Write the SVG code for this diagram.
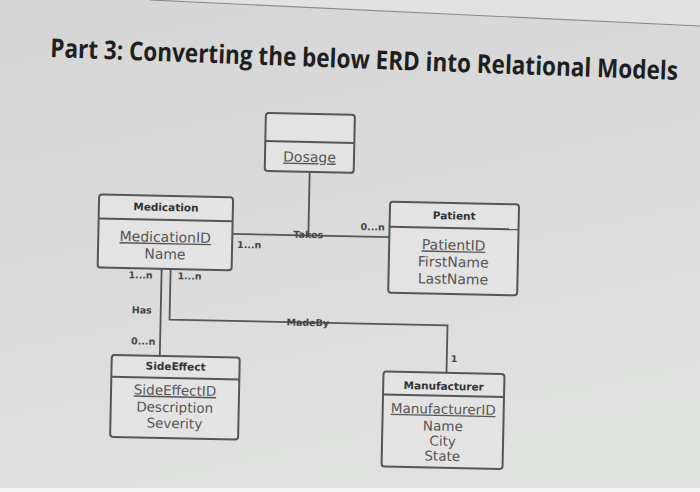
<svg xmlns="http://www.w3.org/2000/svg" width="700" height="492" viewBox="0 0 700 492">
<defs>
<linearGradient id="bg" x1="0" y1="0" x2="0.3" y2="1">
<stop offset="0" stop-color="#d6d6d6"/>
<stop offset="0.6" stop-color="#dcdcdc"/>
<stop offset="1" stop-color="#e0e2e0"/>
</linearGradient>
<style>
.box{fill:#e4e4e4;stroke:#555;stroke-width:2}
.div{stroke:#555;stroke-width:2}
.hd{font-family:"DejaVu Sans",sans-serif;font-weight:bold;font-size:10.5px;fill:#333;text-anchor:middle}
.at{font-family:"DejaVu Sans",sans-serif;font-size:14px;fill:#555;text-anchor:middle}
.at2{font-family:"DejaVu Sans",sans-serif;font-size:13.5px;fill:#555;text-anchor:middle}
.u{text-decoration:underline}
.lb{font-family:"DejaVu Sans",sans-serif;font-weight:bold;font-size:9.5px;fill:#444}
.cn{fill:none;stroke:#555;stroke-width:1.8}
</style>
</defs>
<rect x="0" y="0" width="700" height="492" fill="url(#bg)"/>
<polygon points="0,0 150,0 700,26 700,0" fill="#e2e2e2"/>
<line x1="150" y1="0" x2="700" y2="26" stroke="#8a8a8a" stroke-width="1.2"/>
<rect x="0" y="488" width="700" height="4" fill="#f4f4f4"/>
<text x="0" y="0" transform="translate(50 57) rotate(2.1) scale(1 1.27)" font-family="'Open Sans',sans-serif" font-weight="bold" font-size="20.4" fill="#1e1e1e" textLength="628" lengthAdjust="spacingAndGlyphs">Part 3: Converting the below ERD into Relational Models</text>
<g transform="rotate(1.2 310 300)">
<g id="connectors">
<polyline class="cn" points="231,235.5 389,235.5"/>
<polyline class="cn" points="307,172 307,235.5"/>
<polyline class="cn" points="161,272 161,359"/>
<polyline class="cn" points="170,272 170,322.5 448,322.5 448,370"/>
<text class="lb" x="292" y="238">Takes</text>
<text class="lb" x="236" y="249.5">1...n</text>
<text class="lb" x="359" y="229">0...n</text>
<text class="lb" x="128" y="282">1...n</text>
<text class="lb" x="177" y="282">1...n</text>
<text class="lb" x="132" y="317">Has</text>
<text class="lb" x="132" y="348">0...n</text>
<text class="lb" x="287" y="326">MadeBy</text>
<text class="lb" x="452" y="359">1</text>
</g>
<g id="dosage">
<rect class="box" x="262" y="114" width="89" height="58" rx="3"/>
<line class="div" x1="262" y1="142" x2="351" y2="142"/>
<text class="at u" x="306.5" y="162">Dosage</text>
</g>
<g id="medication">
<rect class="box" x="97" y="199" width="134" height="73" rx="3"/>
<line class="div" x1="97" y1="223" x2="231" y2="223"/>
<text class="hd" x="164" y="214">Medication</text>
<text class="at u" x="164" y="245">MedicationID</text>
<text class="at" x="164" y="262">Name</text>
</g>
<g id="patient">
<rect class="box" x="388" y="200" width="129" height="91" rx="3"/>
<line class="div" x1="388" y1="225" x2="517" y2="225"/>
<text class="hd" x="452.5" y="216.5">Patient</text>
<text class="at u" x="452.5" y="247">PatientID</text>
<text class="at" x="452.5" y="264">FirstName</text>
<text class="at" x="452.5" y="281">LastName</text>
</g>
<g id="sideeffect">
<rect class="box" x="113" y="359" width="128" height="82" rx="3"/>
<line class="div" x1="113" y1="381" x2="241" y2="381"/>
<text class="hd" x="177" y="373">SideEffect</text>
<text class="at2 u" x="177" y="398">SideEffectID</text>
<text class="at2" x="177" y="415">Description</text>
<text class="at2" x="177" y="431">Severity</text>
</g>
<g id="manufacturer">
<rect class="box" x="385" y="370" width="121" height="95" rx="3"/>
<line class="div" x1="385" y1="393" x2="506" y2="393"/>
<text class="hd" x="445.5" y="387">Manufacturer</text>
<text class="at2 u" x="445.5" y="411" font-size="13">ManufacturerID</text>
<text class="at2" x="445.5" y="428">Name</text>
<text class="at2" x="445.5" y="443">City</text>
<text class="at2" x="445.5" y="458">State</text>
</g>
</g>
</svg>
